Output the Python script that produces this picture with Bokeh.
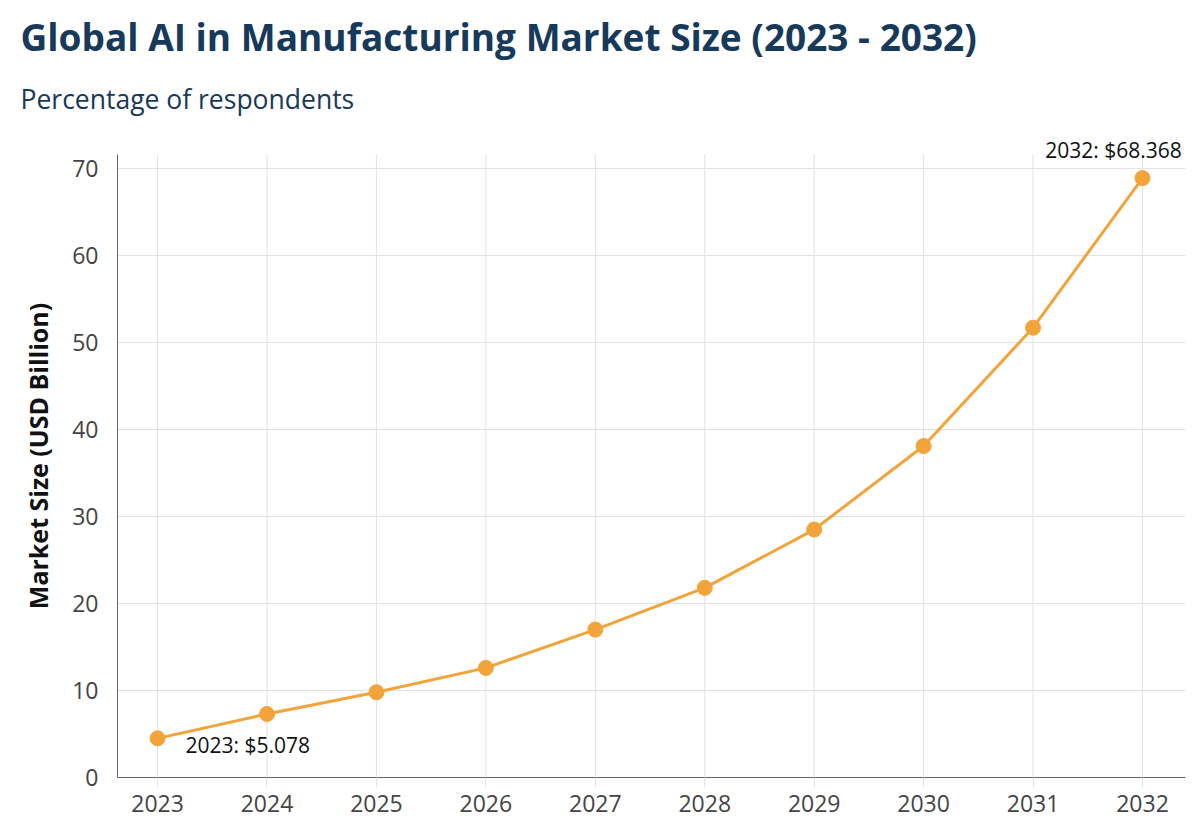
from bokeh.plotting import figure
from bokeh.models import Title, FixedTicker, Range1d, ColumnDataSource, LabelSet
from bokeh.embed import file_html
from bokeh.resources import INLINE
from bokeh.core.properties import value

years = [2023, 2024, 2025, 2026, 2027, 2028, 2029, 2030, 2031, 2032]
market = [4.5, 7.3, 9.8, 12.6, 17.0, 21.8, 28.5, 38.1, 51.7, 68.9]
y_ticks = [0, 10, 20, 30, 40, 50, 60, 70]
ann_text = ["2023: $5.078", "2032: $68.368"]
y_top = 71.6

FONT = "Open Sans"
NAVY = "#17395a"
ORANGE = "#f2a33a"
GRID = "#e2e2e2"

p = figure(width=1200, height=839, output_backend="svg", toolbar_location=None,
           x_range=Range1d(2022.634, 2032.393), y_range=Range1d(0, 73.91),
           min_border_left=117, min_border_right=15, min_border_bottom=62,
           min_border_top=0, title=None)

p.add_layout(Title(text="Percentage of respondents", text_font_size="26.5px",
                   text_font=FONT, text_color=NAVY, text_font_style="normal",
                   offset=-97, standoff=35), "above")
p.add_layout(Title(text="Global AI in Manufacturing Market Size (2023 - 2032)",
                   text_font_size="37px", text_font=FONT, text_color=NAVY,
                   text_font_style="bold", offset=-97, standoff=0), "above")
p.add_layout(Title(text=" ", text_font_size="6px", standoff=0), "above")

# vertical grid lines, spanning only up to the top of the y axis
p.segment(x0=years, y0=[0] * len(years), x1=years, y1=[y_top] * len(years),
          line_color=GRID, line_width=1)

p.line(years, market, line_color=ORANGE, line_width=3)
p.scatter(years, market, size=15, fill_color=ORANGE, line_color=ORANGE)

src1 = ColumnDataSource(dict(x=[years[0]], y=[market[0]], t=[ann_text[0]]))
src2 = ColumnDataSource(dict(x=[years[-1]], y=[market[-1]], t=[ann_text[1]]))
p.add_layout(LabelSet(x="x", y="y", text="t", source=src1, x_offset=28, y_offset=-7,
                      text_align="left", text_baseline="middle",
                      text_font_size="21px", text_font=value(FONT), text_color="#111111"))
p.add_layout(LabelSet(x="x", y="y", text="t", source=src2, x_offset=-29, y_offset=14,
                      text_align="center", text_baseline="bottom",
                      text_font_size="21px", text_font=value(FONT), text_color="#111111"))

p.xaxis.ticker = FixedTicker(ticks=years)
p.yaxis.ticker = FixedTicker(ticks=y_ticks)
p.yaxis.bounds = (0, y_top)
p.xaxis.minor_tick_line_color = None
p.yaxis.minor_tick_line_color = None
p.yaxis.major_tick_line_color = None
p.xaxis.major_tick_line_color = GRID
p.xaxis.major_tick_out = 10
p.xaxis.major_tick_in = 0
p.axis.axis_line_color = "#666666"
p.axis.major_label_text_font = FONT
p.axis.major_label_text_font_size = "23px"
p.axis.major_label_text_color = "#444444"
p.xaxis.major_label_standoff = 7
p.yaxis.major_label_standoff = 13

p.yaxis.axis_label = "Market Size (USD Billion)"
p.yaxis.axis_label_text_font = FONT
p.yaxis.axis_label_text_font_size = "25px"
p.yaxis.axis_label_text_font_style = "bold"
p.yaxis.axis_label_text_color = "#111111"
p.yaxis.axis_label_standoff = 14

p.xgrid.grid_line_color = None
p.ygrid.grid_line_color = GRID
p.ygrid.grid_line_width = 1
p.outline_line_color = None

open("out.html", "w").write(file_html(p, INLINE))
